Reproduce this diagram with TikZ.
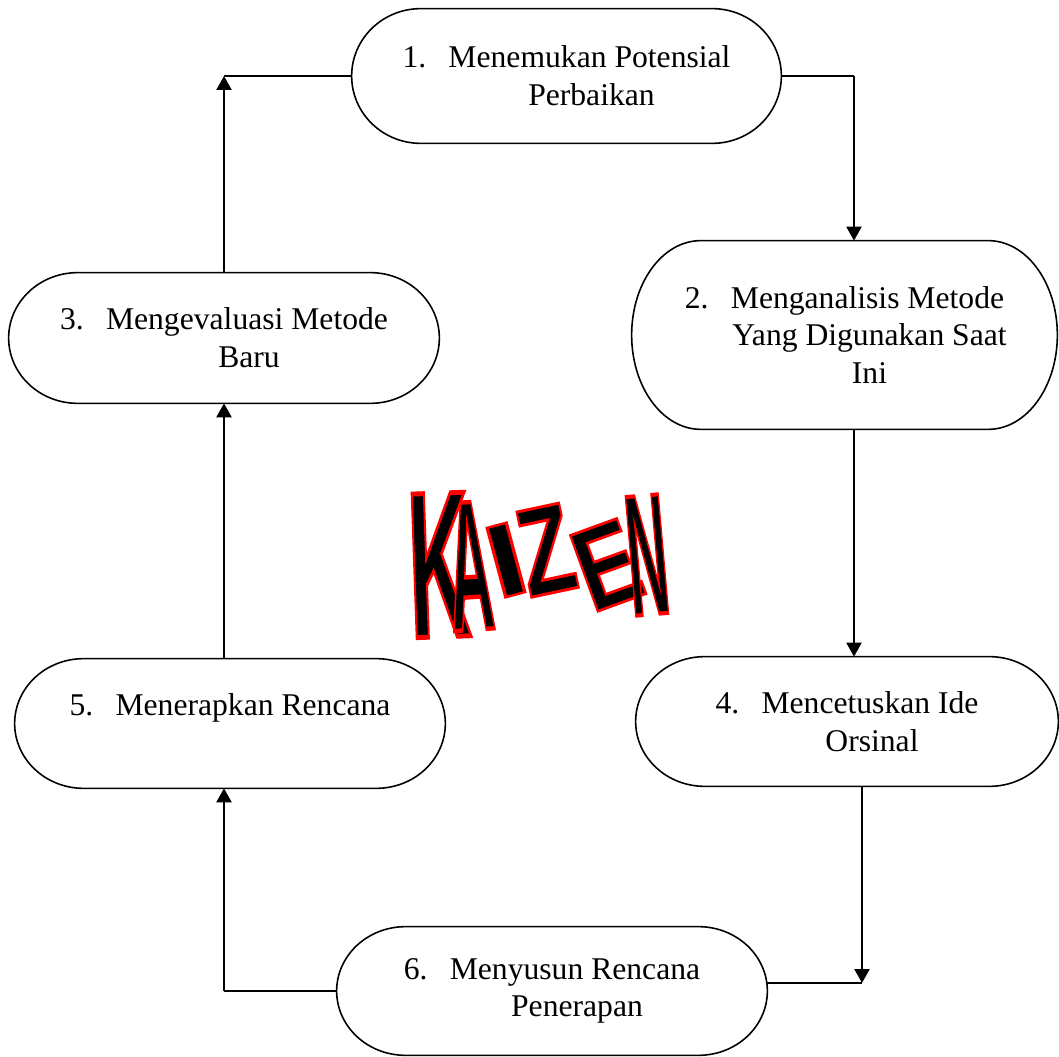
\documentclass[tikz,border=0pt]{standalone}
\usepackage{fontspec}
\setmainfont{Liberation Serif}
\setsansfont{Liberation Sans}
\usetikzlibrary{arrows.meta, positioning, calc}
\newcommand{\nomor}[1]{\makebox[0.92cm][l]{#1}}
\newcommand{\lanjut}{\hspace*{1cm}}
% huruf hitam bertepi merah
\newcommand{\tepimerah}[1]{\special{pdf:literal direct 1 0 0 RG 1.4 w 2 Tr}#1\special{pdf:literal direct 0 Tr}}
\tikzset{
    langkah/.style={rectangle, inner sep=0pt, minimum width=8.6cm, minimum height=2.6cm, align=center, font=\fontsize{18}{21.5}\selectfont},
    bingkai/.style={line width=0.9pt},
    garis/.style={line width=1pt},
    panah/.style={line width=1.3pt, -{Triangle[length=0.28cm, width=0.3cm]}},
    huruf/.style={inner sep=0pt, transform shape, font=\fontsize{60}{60}\selectfont\sffamily\bfseries}
}

\begin{document}
\begin{tikzpicture}
    \useasboundingbox (0,0) rectangle (21.18,21.12);

    \node[langkah, minimum width=8.58cm, minimum height=2.68cm] (temukan) at (11.33,19.6) {\nomor{1.}Menemukan Potensial\\\lanjut Perbaikan};
    \node[langkah, minimum width=8.5cm, minimum height=3.76cm] (analisis) at (16.89,14.42) {\nomor{2.}Menganalisis Metode\\\lanjut Yang Digunakan Saat\\\lanjut Ini};
    \node[langkah] (evaluasi) at (4.48,14.36) {\nomor{3.}Mengevaluasi Metode\\\lanjut Baru};
    \node[langkah, minimum width=8.44cm, minimum height=2.58cm] (cetuskan) at (16.94,6.69) {\nomor{4.}Mencetuskan Ide\\\lanjut Orsinal};
    \node[langkah, minimum height=2.58cm] (terapkan) at (4.6,6.65) {\nomor{5.}Menerapkan Rencana\\\mbox{}};
    \node[langkah, minimum height=2.56cm] (susun) at (11.04,1.3) {\nomor{6.}Menyusun Rencana\\\lanjut Penerapan};

    % bentuk terminator
    \foreach \kotak in {temukan, analisis, evaluasi, cetuskan, terapkan, susun}
        \draw[bingkai] let \p1=(\kotak.north west), \p2=(\kotak.south east) in
            (\x1+1.38cm,\y1) -- (\x2-1.38cm,\y1)
            arc[start angle=90, end angle=-90, x radius=1.38cm, y radius={(\y1-\y2)/2}]
            -- (\x1+1.38cm,\y2)
            arc[start angle=270, end angle=90, x radius=1.38cm, y radius={(\y1-\y2)/2}]
            -- cycle;

    \coordinate (sudut1) at (4.48,19.6);
    \coordinate (sudut2) at (17.08,19.6);
    \coordinate (sudut3) at (17.24,1.46);
    \coordinate (sudut4) at (4.48,1.3);

    \draw[garis] (temukan.east) -- (sudut2);
    \draw[panah] (sudut2) -- (sudut2 |- analisis.north);
    \draw[panah] (analisis.south -| sudut2) -- (cetuskan.north -| sudut2);
    \draw[panah] (cetuskan.south -| sudut3) -- (sudut3);
    \draw[garis] (sudut3) -- (sudut3 -| susun.east);
    \draw[garis] (susun.west) -- (sudut4);
    \draw[panah] (sudut4) -- (sudut4 |- terapkan.south);
    \draw[panah] (terapkan.north -| evaluasi.south) -- (evaluasi.south);
    \draw[panah] (evaluasi.north) -- (sudut1);
    \draw[garis] (sudut1) -- (temukan.west);

    % tulisan KAIZEN
    \node[huruf, rotate=2, xscale=0.8, yscale=1.98] (hurufK) at (8.78,9.82) {\tepimerah{K}};
    \node[huruf, rotate=4, xscale=0.58, yscale=1.76] (hurufA) at (9.4,9.8) {\tepimerah{A}};
    \node[huruf, rotate=15, xscale=1.3, yscale=0.99] (hurufI) at (10.12,9.92) {\tepimerah{I}};
    \node[huruf, rotate=12, xscale=0.83, yscale=1.19] (hurufZ) at (10.92,10.12) {\tepimerah{Z}};
    \node[huruf, rotate=20, xscale=0.87, yscale=1.11] (hurufE) at (12.14,9.82) {\tepimerah{E}};
    \node[huruf, rotate=5, xscale=0.53, yscale=1.64] (hurufN) at (12.94,10.02) {\tepimerah{N}};
\end{tikzpicture}
\end{document}
